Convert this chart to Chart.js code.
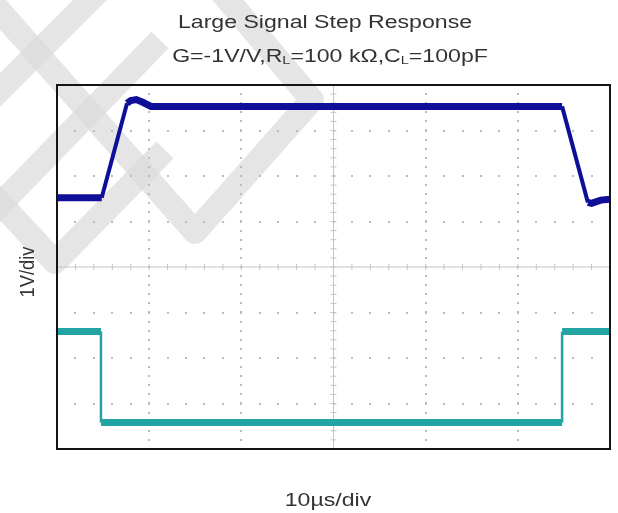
<!DOCTYPE html>
<html>
<head>
<meta charset="utf-8">
<script src="https://cdn.jsdelivr.net/npm/chart.js@4/dist/chart.umd.min.js"></script>
<style>
  html, body { margin: 0; padding: 0; background: #fff; overflow: hidden; }
  #scope { display: block; }
</style>
</head>
<body>
<canvas id="scope" width="618" height="513"></canvas>
<script>
// time in us, 10us/div, volts at 1V/div
const outTime = [0, 4.85, 7.6, 8.0, 8.6, 9.3, 10.2, 54.8, 57.6, 58.0, 59.0, 60]
const outVolts = [1.52, 1.52, 3.6, 3.66, 3.68, 3.62, 3.53, 3.53, 1.42, 1.40, 1.47, 1.49]

const inTime = [0, 4.77, 4.77, 54.8, 54.8, 60]
const inVolts = [-1.42, -1.42, -3.42, -3.42, -1.42, -1.42]

const xTicks = [0, 10, 20, 30, 40, 50, 60]
const yTicks = [-4, -3, -2, -1, 0, 1, 2, 3, 4]

const toPoints = (xs, ys) => xs.map((x, i) => ({ x: x, y: ys[i] }))

const TEXT = '#333'
const FONT = '"Liberation Sans", Arial, sans-serif'
const SX = 1.32 // source picture is stretched sideways

// faint logo watermark behind everything
const watermark = {
  id: 'watermark',
  beforeDraw (chart) {
    const ctx = chart.ctx
    ctx.save()
    ctx.strokeStyle = 'rgba(218,218,218,0.7)'
    ctx.lineWidth = 24
    ctx.lineJoin = 'round'
    ctx.lineCap = 'butt'
    const paths = [
      [[-10, 0], [195, 232], [312, 100], [218, -12]],
      [[100, -10], [-10, 100]],
      [[160, 40], [-10, 215]],
      [[-10, 192], [55, 262], [165, 150]]
    ]
    paths.forEach((p) => {
      ctx.beginPath()
      ctx.moveTo(p[0][0], p[0][1])
      for (let i = 1; i < p.length; i++) ctx.lineTo(p[i][0], p[i][1])
      ctx.stroke()
    })
    ctx.restore()
  }
}

// oscilloscope graticule and frame
const graticule = {
  id: 'graticule',
  beforeDatasetsDraw (chart) {
    const ctx = chart.ctx
    const xs = chart.scales.x
    const ys = chart.scales.y
    const a = chart.chartArea
    ctx.save()
    ctx.fillStyle = '#bcbcbc'
    // dotted rows
    yTicks.forEach((v) => {
      if (v === 0 || v === -4 || v === 4) return
      const py = ys.getPixelForValue(v)
      for (let t = 2; t < 60; t += 2) {
        ctx.fillRect(Math.round(xs.getPixelForValue(t)) - 1, Math.round(py) - 1, 2, 2)
      }
    })
    // dotted columns
    xTicks.forEach((t) => {
      if (t === 0 || t === 30 || t === 60) return
      const px = xs.getPixelForValue(t)
      for (let v = -3.8; v < 4; v += 0.2) {
        ctx.fillRect(Math.round(px) - 1, Math.round(ys.getPixelForValue(v)) - 1, 2, 2)
      }
    })
    // centre axes with minor ticks
    const cx = xs.getPixelForValue(30)
    const cy = ys.getPixelForValue(0)
    ctx.strokeStyle = '#c4c4c4'
    ctx.lineWidth = 1
    ctx.beginPath()
    ctx.moveTo(a.left, cy); ctx.lineTo(a.right, cy)
    ctx.moveTo(cx, a.top); ctx.lineTo(cx, a.bottom)
    for (let t = 2; t < 60; t += 2) {
      const px = xs.getPixelForValue(t)
      ctx.moveTo(px, cy - 3); ctx.lineTo(px, cy + 3)
    }
    for (let v = -3.8; v < 4; v += 0.2) {
      const py = ys.getPixelForValue(v)
      ctx.moveTo(cx - 3, py); ctx.lineTo(cx + 3, py)
    }
    ctx.stroke()
    ctx.restore()
  },
  afterDatasetsDraw (chart) {
    const ctx = chart.ctx
    const a = chart.chartArea
    ctx.save()
    ctx.strokeStyle = '#141414'
    ctx.lineWidth = 2
    ctx.strokeRect(a.left, a.top, a.right - a.left, a.bottom - a.top)
    ctx.restore()
  }
}

// titles drawn as text runs so the L subscripts work
function drawRuns (ctx, runs, cx, baseline) {
  let w = 0
  runs.forEach((r) => { ctx.font = r.font; w += ctx.measureText(r.text).width })
  ctx.save()
  ctx.translate(cx - (w * SX) / 2, baseline)
  ctx.scale(SX, 1)
  let x = 0
  runs.forEach((r) => {
    ctx.font = r.font
    ctx.fillText(r.text, x, r.dy || 0)
    x += ctx.measureText(r.text).width
  })
  ctx.restore()
}

const labels = {
  id: 'labels',
  afterDraw (chart) {
    const ctx = chart.ctx
    const big = '17.5px ' + FONT
    const sub = '11px ' + FONT
    ctx.save()
    ctx.fillStyle = TEXT
    ctx.textBaseline = 'alphabetic'
    ctx.textAlign = 'left'
    drawRuns(ctx, [{ text: 'Large Signal Step Response', font: big }], 325, 28)
    drawRuns(ctx, [
      { text: 'G=-1V/V,R', font: big },
      { text: 'L', font: sub, dy: 2 },
      { text: '=100 k\u03A9,C', font: big },
      { text: 'L', font: sub, dy: 2 },
      { text: '=100pF', font: big }
    ], 330, 62)
    drawRuns(ctx, [{ text: '10\u00B5s/div', font: big }], 328, 506)
    ctx.translate(34, 272)
    ctx.rotate(-Math.PI / 2)
    ctx.scale(1.05, 1.2)
    ctx.textAlign = 'center'
    ctx.font = big
    ctx.fillText('1V/div', 0, 0)
    ctx.restore()
  }
}

new Chart(document.querySelector('#scope'), {
  type: 'line',
  data: {
    datasets: [
      {
        label: 'Output',
        data: toPoints(outTime, outVolts),
        borderColor: '#0e0e98',
        borderWidth: 7,
        pointRadius: 0,
        tension: 0,
        fill: false,
        segment: {
          borderWidth: (c) => Math.abs(c.p1.parsed.y - c.p0.parsed.y) > 1 ? 4 : 7
        }
      },
      {
        label: 'Input',
        data: toPoints(inTime, inVolts),
        borderColor: '#22a4a4',
        borderWidth: 6,
        pointRadius: 0,
        tension: 0,
        fill: false,
        segment: {
          borderWidth: (c) => c.p0.parsed.x === c.p1.parsed.x ? 2.5 : 7
        }
      }
    ]
  },
  options: {
    responsive: false,
    animation: false,
    devicePixelRatio: 1,
    layout: { padding: { left: 57, right: 8, top: 85, bottom: 64 } },
    plugins: { legend: { display: false }, tooltip: { enabled: false }, title: { display: false } },
    scales: {
      x: { type: 'linear', min: 0, max: 60, display: false },
      y: { type: 'linear', min: -4, max: 4, display: false }
    }
  },
  plugins: [watermark, graticule, labels]
})
</script>
</body>
</html>
